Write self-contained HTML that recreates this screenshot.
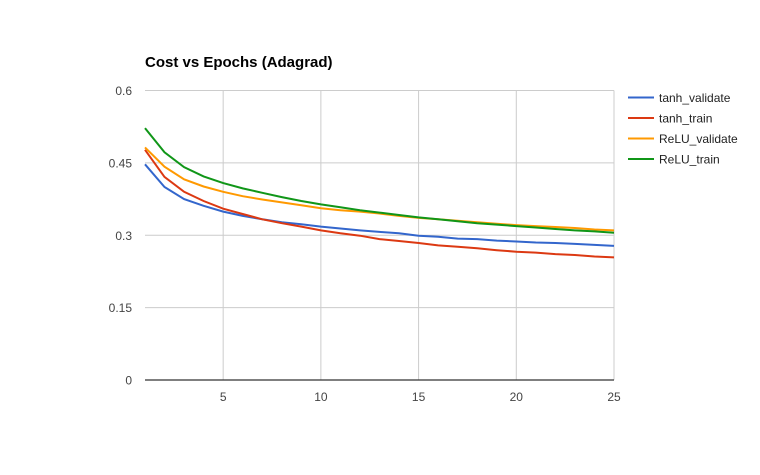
<!DOCTYPE html>
<html><head><meta charset="utf-8"><style>
body{margin:0;background:#fff;}
svg text{font-family:"Liberation Sans",Arial,sans-serif;}
</style></head><body>
<svg width="760" height="470" viewBox="0 0 760 470">
<text x="145" y="67" font-size="15" font-weight="bold" fill="#000">Cost vs Epochs (Adagrad)</text>
<g id="grid"></g><g id="series"></g><g id="legend"></g>
</svg>
<script>
const epochs=[1,2,3,4,5,6,7,8,9,10,11,12,13,14,15,16,17,18,19,20,21,22,23,24,25];
const tanhValidate=[0.447,0.400,0.375,0.361,0.349,0.340,0.333,0.327,0.323,0.318,0.314,0.310,0.307,0.304,0.299,0.297,0.293,0.292,0.289,0.287,0.285,0.284,0.282,0.280,0.278];
const tanhTrain=[0.477,0.421,0.390,0.371,0.355,0.344,0.333,0.325,0.318,0.310,0.304,0.299,0.292,0.288,0.284,0.279,0.276,0.273,0.269,0.266,0.264,0.261,0.259,0.256,0.254];
const reluValidate=[0.482,0.442,0.416,0.401,0.390,0.381,0.374,0.368,0.362,0.356,0.352,0.349,0.345,0.340,0.336,0.333,0.330,0.327,0.324,0.321,0.319,0.317,0.315,0.312,0.310];
const reluTrain=[0.522,0.472,0.441,0.422,0.408,0.397,0.388,0.379,0.371,0.364,0.358,0.352,0.347,0.342,0.337,0.333,0.329,0.325,0.322,0.319,0.316,0.313,0.310,0.308,0.305];
const yTicks=[0,0.15,0.3,0.45,0.6];
const yTickLabels=["0","0.15","0.3","0.45","0.6"];
const xTicks=[5,10,15,20,25];
const seriesNames=["tanh_validate","tanh_train","ReLU_validate","ReLU_train"];
const NS="http://www.w3.org/2000/svg";
const L=145,R=614,T=90.5,B=380;
const xs=e=>L+(e-1)/(24)*(R-L);
const ys=v=>B-v/0.6*(B-T);
function mk(tag,attrs,parent){const el=document.createElementNS(NS,tag);for(const k in attrs)el.setAttribute(k,attrs[k]);parent.appendChild(el);return el;}
const grid=document.getElementById('grid');
yTicks.forEach((v,i)=>{
  if(v>0){const g=mk('line',{x1:L,x2:R,y1:ys(v),y2:ys(v),stroke:'#ccc','stroke-width':1},grid);
  
  }
  const t=mk('text',{x:132,y:ys(v)+4.5,'text-anchor':'end','font-size':12,fill:'#444'},grid);
  t.textContent=yTickLabels[i];
  
  
});
xTicks.forEach(e=>{
  const g=mk('line',{x1:xs(e),x2:xs(e),y1:T,y2:B,stroke:'#ccc','stroke-width':1},grid);
  
  
  const t=mk('text',{x:xs(e),y:401,'text-anchor':'middle','font-size':12,fill:'#444'},grid);
  t.textContent=String(e);
  
  
});
const ax=mk('line',{x1:L,x2:R,y1:B,y2:B,stroke:'#333','stroke-width':1.2},grid);


const data=[tanhValidate,tanhTrain,reluValidate,reluTrain];
const colors=["#3366cc","#dc3912","#ff9900","#109618"];
const sg=document.getElementById('series');
data.forEach((arr,i)=>{
  const d=arr.map((v,j)=>(j?'L':'M')+xs(epochs[j]).toFixed(1)+','+ys(v).toFixed(1)).join('');
  const p=mk('path',{d:d,fill:'none',stroke:colors[i],'stroke-width':2},sg);
  
  
});
const lg=document.getElementById('legend');
seriesNames.forEach((n,i)=>{
  const y=97.5+i*20.5;
  const g=mk('g',{},lg);
  
  
  mk('line',{x1:628,x2:654,y1:y,y2:y,stroke:colors[i],'stroke-width':2},g);
  const t=mk('text',{x:659,y:y+4.5,'font-size':12,fill:'#222'},g);
  t.textContent=n;
});
</script>
</body></html>
